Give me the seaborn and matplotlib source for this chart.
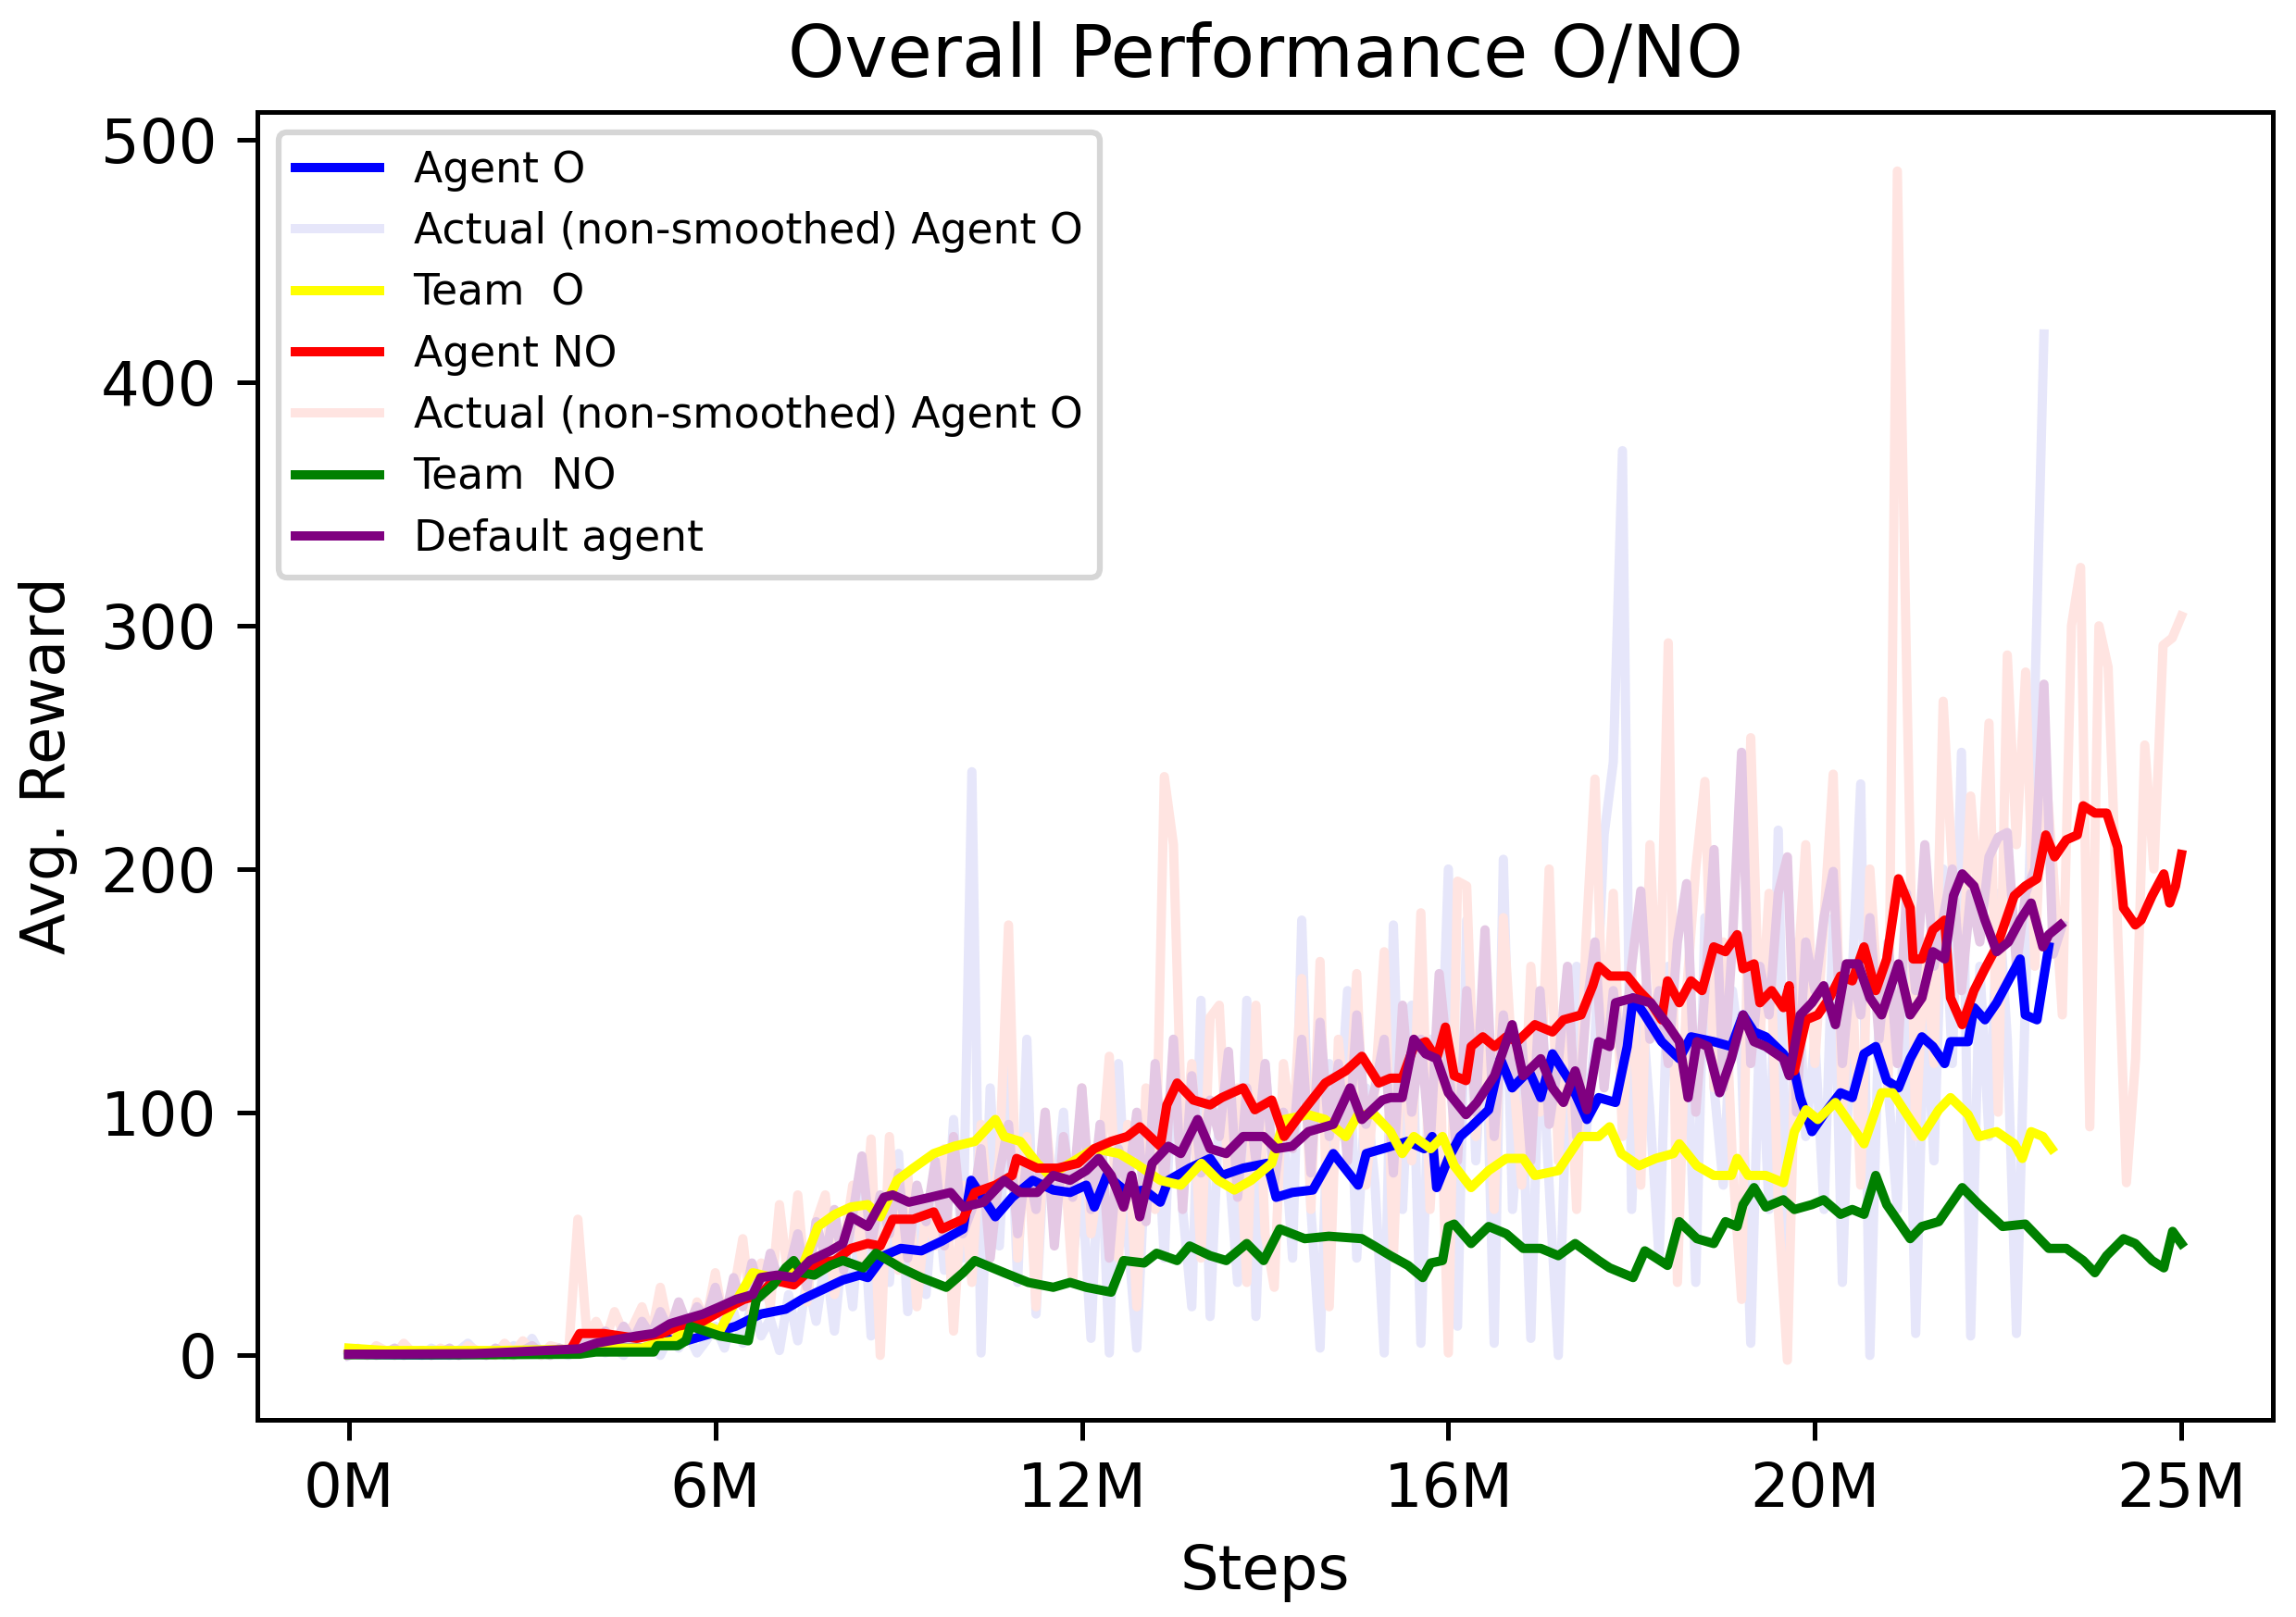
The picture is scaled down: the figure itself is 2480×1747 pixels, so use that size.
import matplotlib
matplotlib.use("Agg")
import matplotlib.pyplot as plt
import seaborn as sns
import numpy as np

# x values are in millions of steps (true scale); tick labels are the ones printed on the chart
agent_o_x = [0, 0.5, 1, 1.5, 2, 2.5, 3, 3.4, 3.8, 4.16,
             4.27, 4.49, 5.06, 5.28, 5.62, 5.96, 6.18, 6.46, 6.74, 6.97,
             7.08, 7.3, 7.53, 7.81, 8.09, 8.38, 8.49, 8.82, 9.05, 9.33,
             9.61, 9.84, 10.06, 10.17, 10.34, 10.62, 10.85, 11.07, 11.18, 11.47,
             11.75, 11.91, 12.2, 12.53, 12.65, 12.87, 13.15, 13.43, 13.77, 13.88,
             14.22, 14.44, 14.67, 14.78, 14.84, 15.0, 15.16, 15.31, 15.55, 15.71,
             15.87, 16.1, 16.26, 16.42, 16.65, 16.89, 17.05, 17.28, 17.44, 17.52,
             17.68, 17.91, 18.15, 18.31, 18.62, 18.86, 19.02, 19.17, 19.33, 19.57,
             19.72, 19.8, 19.96, 20.12, 20.35, 20.51, 20.67, 20.83, 20.98, 21.14,
             21.3, 21.46, 21.61, 21.77, 21.85, 22.09, 22.17, 22.32, 22.48, 22.64,
             22.8, 22.87, 23.03, 23.19]
agent_o_y = [0.5, 0.3, 0.2, 0.3, 0.5, 1, 1.5, 3, 3, 3,
             8, 5, 10, 12, 17, 19, 23, 27, 31, 33,
             32, 41, 44, 43, 47, 52, 72, 57, 65, 72,
             68, 67, 70, 61, 74, 67, 68, 63, 72, 77,
             81, 74, 77, 79, 65, 67, 68, 83, 70, 83,
             86, 88, 85, 90, 69, 81, 90, 94, 101, 122,
             110, 117, 106, 124, 113, 97, 106, 104, 127, 147,
             140, 129, 122, 131, 129, 127, 140, 133, 131, 124,
             117, 106, 92, 99, 108, 106, 124, 127, 113, 110,
             122, 131, 127, 120, 129, 129, 143, 138, 145, 154,
             163, 140, 138, 168]

team_o_x = [0, 0.5, 1, 2, 3, 3.5, 4.0, 4.2, 4.44, 4.6,
            4.83, 5.06, 5.22, 5.51, 5.79, 5.96, 6.18, 6.4, 6.63, 6.85,
            7.08, 7.25, 7.48, 7.7, 7.98, 8.26, 8.54, 8.82, 8.94, 9.16,
            9.39, 9.56, 9.84, 10.17, 10.51, 10.73, 11.07, 11.35, 11.63, 11.86,
            12.08, 12.31, 12.59, 12.76, 13.09, 13.32, 13.6, 13.77, 13.99, 14.21,
            14.37, 14.53, 14.76, 14.92, 15.08, 15.31, 15.55, 15.79, 16.02, 16.18,
            16.5, 16.81, 17.05, 17.2, 17.36, 17.6, 17.83, 18.07, 18.15, 18.39,
            18.62, 18.86, 18.94, 19.09, 19.33, 19.57, 19.72, 19.88, 20.04, 20.28,
            20.51, 20.67, 20.91, 21.06, 21.3, 21.46, 21.69, 21.85, 22.09, 22.24,
            22.48, 22.72, 22.83, 22.95, 23.11, 23.23]
team_o_y = [3, 2, 2, 2, 2.5, 3, 3, 5, 6, 13,
            13, 10, 19, 34, 32, 33, 36, 53, 58, 61,
            62, 57, 72, 77, 83, 86, 88, 97, 90, 88,
            79, 74, 79, 85, 83, 79, 72, 70, 79, 72,
            68, 72, 79, 97, 99, 97, 90, 99, 99, 92,
            83, 90, 85, 90, 78, 69, 76, 81, 81, 74,
            76, 90, 90, 94, 83, 78, 81, 83, 87, 78,
            74, 74, 81, 74, 74, 71, 92, 101, 97, 104,
            94, 87, 108, 108, 97, 90, 101, 106, 99, 90,
            92, 87, 81, 92, 90, 85]

agent_no_x = [0, 1, 2, 3.0, 3.15, 3.48, 3.93, 4.27, 4.49, 4.83,
              5.06, 5.39, 5.62, 5.79, 6.07, 6.18, 6.4, 6.63, 6.85, 7.08,
              7.25, 7.42, 7.7, 7.98, 8.09, 8.38, 8.54, 8.82, 9.05, 9.11,
              9.39, 9.67, 9.95, 10.17, 10.4, 10.62, 10.79, 11.07, 11.16, 11.3,
              11.52, 11.75, 11.91, 12.2, 12.36, 12.59, 12.76, 12.98, 13.32, 13.6,
              13.82, 14.05, 14.21, 14.37, 14.53, 14.69, 14.84, 14.96, 15.08, 15.24,
              15.31, 15.47, 15.63, 15.79, 15.94, 16.18, 16.42, 16.57, 16.81, 16.97,
              17.05, 17.2, 17.44, 17.6, 17.76, 17.91, 17.99, 18.15, 18.31, 18.46,
              18.62, 18.78, 18.94, 19.02, 19.17, 19.25, 19.41, 19.57, 19.65, 19.72,
              19.88, 20.04, 20.2, 20.35, 20.51, 20.67, 20.83, 20.98, 21.14, 21.3,
              21.34, 21.46, 21.61, 21.77, 21.85, 22.01, 22.17, 22.32, 22.48, 22.64,
              22.72, 22.87, 23.03, 23.15, 23.27, 23.43, 23.58, 23.66, 23.82, 23.98,
              24.13, 24.21, 24.37, 24.45, 24.6, 24.76, 24.84, 24.92, 25.0]
agent_no_y = [0.5, 0.5, 0.5, 1, 9, 9, 7, 9, 12, 14,
              18, 23, 25, 31, 29, 32, 38, 39, 44, 46,
              45, 56, 56, 59, 52, 56, 67, 70, 74, 81,
              77, 77, 79, 85, 88, 90, 94, 86, 103, 112,
              105, 103, 106, 110, 101, 105, 90, 99, 112, 117,
              123, 112, 114, 114, 127, 129, 122, 135, 115, 113,
              127, 131, 127, 131, 129, 136, 133, 138, 140, 152,
              160, 156, 156, 150, 145, 138, 154, 145, 154, 150,
              168, 166, 173, 159, 161, 145, 150, 143, 152, 117,
              138, 140, 147, 156, 154, 168, 150, 163, 196, 184,
              163, 163, 175, 179, 147, 136, 150, 159, 168, 182,
              189, 193, 196, 214, 205, 212, 214, 226, 223, 223,
              209, 184, 177, 179, 189, 198, 186, 193, 206]

team_no_x = [0, 1, 2, 3.15, 3.37, 4.16, 4.21, 4.49, 4.6, 4.66,
             5.06, 5.45, 5.56, 5.79, 5.96, 6.07, 6.18, 6.35, 6.57, 6.74,
             7.02, 7.19, 7.42, 7.53, 7.81, 8.15, 8.38, 8.54, 8.94, 9.27,
             9.61, 9.84, 10.06, 10.4, 10.57, 10.85, 11.02, 11.3, 11.47, 11.75,
             11.97, 12.25, 12.48, 12.7, 13.04, 13.37, 13.82, 13.99, 14.21, 14.45,
             14.65, 14.76, 14.92, 15.0, 15.08, 15.31, 15.55, 15.79, 16.02, 16.26,
             16.5, 16.73, 17.05, 17.2, 17.52, 17.68, 17.99, 18.15, 18.39, 18.62,
             18.78, 18.94, 19.02, 19.17, 19.33, 19.57, 19.72, 19.96, 20.12, 20.35,
             20.51, 20.67, 20.83, 20.98, 21.14, 21.3, 21.46, 21.69, 21.85, 22.01,
             22.24, 22.56, 22.87, 23.19, 23.43, 23.66, 23.82, 23.98, 24.21, 24.37,
             24.6, 24.76, 24.88, 25.0]
team_no_y = [0.3, 0.3, 0.3, 0.5, 1.4, 1.4, 4, 4, 6, 12,
             8, 6, 23, 29, 36, 39, 34, 33, 37, 39,
             36, 42, 38, 36, 32, 28, 34, 39, 34, 30,
             28, 30, 28, 26, 39, 38, 42, 39, 45, 41,
             39, 46, 39, 52, 48, 49, 48, 45, 41, 37,
             32, 38, 39, 53, 54, 46, 53, 50, 44, 44,
             41, 46, 39, 36, 32, 43, 37, 55, 48, 46,
             55, 53, 62, 69, 61, 64, 60, 62, 64, 58,
             60, 58, 74, 62, 55, 48, 53, 55, 62, 69,
             62, 53, 54, 44, 44, 39, 34, 41, 48, 46,
             39, 36, 51, 46]

default_x = [0, 0.5, 1, 1.7, 2.25, 3.15, 3.37, 3.93, 4.16, 4.38,
             4.6, 4.83, 5.06, 5.28, 5.51, 5.62, 5.84, 6.07, 6.29, 6.57,
             6.74, 6.85, 7.08, 7.3, 7.42, 7.64, 7.93, 8.21, 8.38, 8.66,
             8.94, 9.16, 9.39, 9.61, 9.84, 10.06, 10.23, 10.4, 10.57, 10.68,
             10.79, 10.96, 11.18, 11.35, 11.58, 11.75, 11.97, 12.2, 12.48, 12.65,
             12.87, 13.09, 13.43, 13.66, 13.82, 14.1, 14.21, 14.37, 14.53, 14.69,
             14.84, 15.0, 15.24, 15.39, 15.63, 15.87, 16.02, 16.26, 16.42, 16.57,
             16.73, 16.89, 17.05, 17.2, 17.28, 17.52, 17.76, 17.99, 18.15, 18.27,
             18.39, 18.54, 18.7, 18.86, 19.02, 19.17, 19.33, 19.57, 19.65, 19.8,
             19.96, 20.12, 20.28, 20.43, 20.59, 20.75, 20.91, 21.14, 21.3, 21.46,
             21.61, 21.77, 21.89, 22.01, 22.17, 22.32, 22.48, 22.64, 22.8, 22.95,
             23.11, 23.19, 23.35]
default_y = [0.5, 0.5, 0.6, 0.7, 1.4, 2.7, 5, 8, 9, 13,
             15, 17, 20, 23, 25, 32, 33, 32, 39, 43,
             46, 57, 53, 65, 66, 63, 65, 67, 61, 63,
             72, 67, 67, 74, 72, 76, 81, 74, 61, 74,
             57, 79, 86, 83, 97, 85, 83, 90, 90, 85,
             86, 92, 95, 110, 97, 105, 106, 106, 130, 124,
             122, 108, 99, 104, 115, 136, 115, 122, 110, 104,
             117, 101, 129, 127, 145, 147, 145, 136, 129, 106,
             129, 127, 108, 122, 140, 129, 127, 122, 115, 140,
             145, 152, 136, 161, 161, 147, 140, 161, 140, 147,
             166, 163, 189, 198, 193, 179, 166, 170, 179, 186,
             168, 173, 177]

# raw (non-smoothed) rewards, one value every 0.125M steps, one row per million
raw_step = 0.125
agent_o_raw = [0, 2, 0, 3, 1, 0, 2, 1,
               0, 3, 1, 0, 2, 5, 1, 0,
               2, 0, 4, 1, 7, 0, 3, 1,
               0, 4, 2, 6, 1, 3, 0, 5,
               2, 6, 0, 8, 3, 9, 1, 6,
               12, 3, 18, 5, 22, 8, 15, 2,
               25, 6, 32, 14, 40, 10, 48, 20,
               70, 8, 55, 30, 83, 18, 60, 25,
               75, 35, 97, 40, 240, 1, 110, 45,
               121, 30, 130, 17, 90, 60, 100, 40,
               70, 7, 95, 1, 120, 50, 3, 85,
               110, 40, 130, 60, 20, 146, 16, 100,
               80, 30, 146, 16, 120, 70, 95, 40,
               179, 60, 3, 120, 90, 150, 40, 110,
               70, 1, 177, 60, 144, 5, 130, 90,
               200, 12, 179, 80, 150, 5, 204, 60,
               110, 7, 140, 70, 0, 120, 160, 90,
               130, 214, 244, 372, 60, 150, 100, 40,
               160, 90, 140, 30, 180, 110, 70, 150,
               120, 5, 140, 60, 216, 23, 170, 90,
               130, 60, 180, 30, 150, 235, 0, 140,
               110, 60, 170, 9, 150, 80, 200, 120,
               248, 8, 160, 90, 190, 130, 9, 150,
               270, 420]
agent_no_raw = [1, 3, 0, 4, 2, 0, 5, 1,
                2, 0, 3, 1, 0, 4, 2, 1,
                0, 5, 1, 6, 2, 0, 4, 3,
                2, 56, 8, 14, 6, 18, 9, 12,
                20, 8, 28, 10, 16, 6, 22, 14,
                34, 12, 26, 48, 15, 38, 20, 62,
                30, 66, 22, 55, 66, 25, 45, 70,
                40, 89, 0, 90, 35, 75, 20, 60,
                45, 85, 10, 70, 30, 95, 55, 80,
                177, 40, 90, 20, 100, 60, 85, 30,
                110, 50, 75, 123, 40, 95, 20, 110,
                60, 238, 210, 80, 120, 40, 139, 144,
                70, 110, 30, 144, 50, 28, 120, 90,
                155, 60, 162, 20, 130, 90, 157, 70,
                110, 166, 40, 140, 80, 182, 60, 130,
                1, 195, 193, 90, 150, 60, 180, 120,
                70, 160, 100, 200, 80, 140, 60, 170,
                237, 120, 190, 90, 160, 70, 210, 130,
                293, 30, 150, 200, 236, 110, 170, 80,
                23, 254, 130, 190, 60, -2, 150, 210,
                120, 180, 239, 100, 160, 70, 200, 140,
                110, 487, 284, 90, 170, 120, 269, 200,
                150, 230, 180, 260, 100, 288, 210, 281,
                160, 250, 200, 140, 300, 324, 94, 300,
                283, 180, 71, 122, 251, 200, 292, 295,
                304]
default_raw = [0, 1, 2, 0, 1, 3, 0, 1,
               2, 0, 1, 3, 0, 2, 1, 0,
               3, 1, 0, 2, 4, 1, 0, 3,
               1, 4, 8, 2, 10, 5, 12, 6,
               14, 8, 18, 10, 22, 12, 20, 15,
               28, 14, 32, 20, 38, 24, 42, 30,
               35, 50, 28, 55, 40, 60, 35, 58,
               82, 45, 66, 50, 75, 40, 70, 55,
               80, 45, 90, 50, 60, 85, 40, 75,
               95, 50, 80, 60, 100, 45, 90, 65,
               110, 60, 95, 40, 85, 70, 100, 55,
               120, 70, 130, 60, 115, 75, 105, 90,
               125, 65, 110, 80, 120, 70, 100, 85,
               130, 75, 137, 90, 120, 80, 140, 95,
               110, 130, 75, 144, 100, 130, 85, 157,
               120, 80, 150, 100, 175, 90, 140, 110,
               130, 80, 150, 95, 120, 160, 90, 140,
               170, 110, 150, 120, 160, 191, 130, 150,
               120, 170, 194, 100, 150, 208, 110, 170,
               248, 120, 160, 140, 190, 205, 100, 170,
               150, 180, 199, 120, 160, 140, 180, 130,
               170, 120, 190, 150, 210, 160, 180, 200,
               150, 190, 170, 205, 213, 215, 160, 190,
               200, 276, 165, 177]

tick_pos = [0, 5, 10, 15, 20, 25]
tick_labels = ['0M', '6M', '12M', '16M', '20M', '25M']


def raw_x(vals):
    return np.arange(len(vals)) * raw_step * 1e6


def mil(xs):
    return np.array(xs) * 1e6


fig, ax = plt.subplots(figsize=(2480 / 450, 1747 / 450), dpi=450)
fig.subplots_adjust(left=0.112, right=0.990, bottom=0.122, top=0.931)

lw = 1.6
# same order as the legend, zorder keeps the raw curves underneath
sns.lineplot(x=mil(agent_o_x), y=agent_o_y, ax=ax, color='blue', lw=lw, label='Agent O', estimator=None, zorder=3)
sns.lineplot(x=raw_x(agent_o_raw), y=agent_o_raw, ax=ax, color='lavender', lw=lw, label='Actual (non-smoothed) Agent O', estimator=None, zorder=1)
sns.lineplot(x=mil(team_o_x), y=team_o_y, ax=ax, color='yellow', lw=lw, label='Team  O', estimator=None, zorder=3.1)
sns.lineplot(x=mil(agent_no_x), y=agent_no_y, ax=ax, color='red', lw=lw, label='Agent NO', estimator=None, zorder=3.2)
sns.lineplot(x=raw_x(agent_no_raw), y=agent_no_raw, ax=ax, color='mistyrose', lw=lw, label='Actual (non-smoothed) Agent O', estimator=None, zorder=1.1)
sns.lineplot(x=mil(team_no_x), y=team_no_y, ax=ax, color='green', lw=lw, label='Team  NO', estimator=None, zorder=3.3)
sns.lineplot(x=mil(default_x), y=default_y, ax=ax, color='purple', lw=lw, label='Default agent', estimator=None, zorder=3.4)
sns.lineplot(x=raw_x(default_raw), y=default_raw, ax=ax, color='#e4c8e4', lw=lw, estimator=None, zorder=1.2)

ax.set_xticks(mil(tick_pos))
ax.set_xticklabels(tick_labels)
ax.tick_params(labelsize=10.5)
ax.set_xlabel('Steps', fontsize=10.5)
ax.set_ylabel('Avg. Reward', fontsize=10.5)
ax.set_title('Overall Performance O/NO', fontsize=12.5)

handles, labels = ax.get_legend_handles_labels()
ax.legend(handles[:7], labels[:7], loc='upper left', fontsize=7.3,
          labelspacing=0.47, handlelength=2.0)

fig.savefig('out.png', dpi=450)
